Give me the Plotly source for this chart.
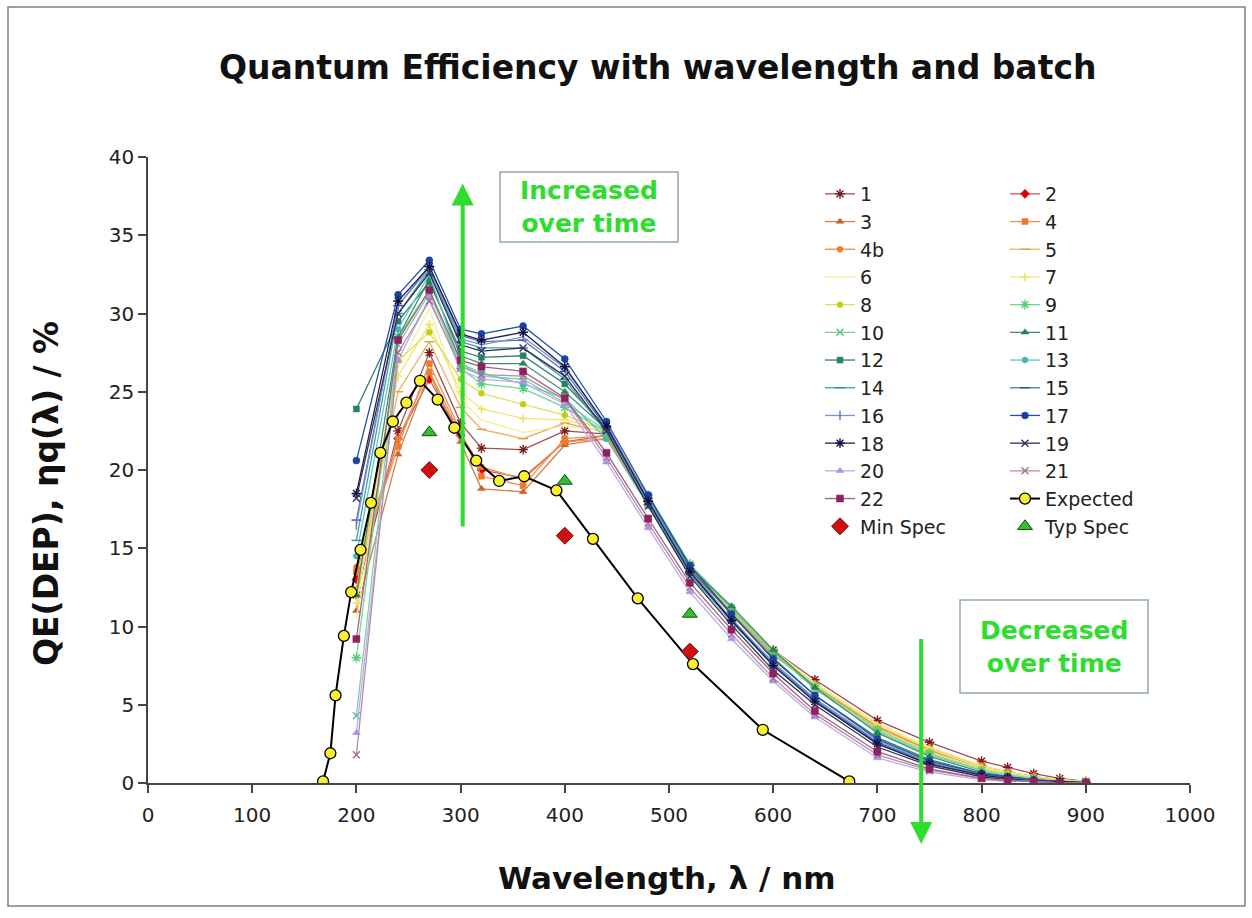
import plotly.graph_objects as go

# ---------------- data ----------------
wavelength_nm = [200, 240, 270, 300, 320, 360, 400, 440, 480, 520,
                 560, 600, 640, 700, 750, 800, 825, 850, 875, 900]

batch_names = ["1", "2", "3", "4", "4b", "5", "6", "7", "8", "9", "10", "11",
               "12", "13", "14", "15", "16", "17", "18", "19", "20", "21", "22"]

qe_1 = [12.0, 22.5, 27.5, 23.0, 21.4, 21.3, 22.5, 22.3, 18.2, 13.9, 11.0, 8.5, 6.6, 4.0, 2.6, 1.4, 1.0, 0.6, 0.3, 0.1]
qe_2 = [13.0, 22.0, 25.8, 22.2, 20.0, 19.5, 21.8, 22.2, 18.0, 13.7, 10.9, 8.3, 6.3, 3.6, 2.2, 1.1, 0.7, 0.4, 0.2, 0.1]
qe_3 = [11.0, 21.0, 26.2, 21.8, 18.8, 18.6, 21.6, 22.0, 17.8, 13.6, 10.8, 8.2, 6.2, 3.5, 2.1, 1.0, 0.7, 0.4, 0.2, 0.1]
qe_4 = [13.5, 21.5, 26.8, 22.5, 19.6, 19.0, 22.0, 22.2, 18.0, 13.8, 10.9, 8.3, 6.3, 3.6, 2.2, 1.1, 0.7, 0.4, 0.2, 0.1]
qe_4b = [13.8, 22.0, 26.3, 22.3, 20.2, 19.4, 21.8, 22.0, 17.9, 13.7, 10.8, 8.2, 6.2, 3.5, 2.1, 1.0, 0.6, 0.4, 0.2, 0.1]
qe_5 = [12.5, 25.0, 28.2, 24.0, 22.6, 22.0, 23.0, 22.4, 18.2, 14.0, 11.1, 8.4, 6.3, 3.7, 2.2, 1.0, 0.7, 0.4, 0.2, 0.1]
qe_6 = [10.5, 26.5, 30.3, 24.5, 23.2, 22.4, 22.8, 22.5, 18.3, 14.0, 11.2, 8.5, 6.4, 3.8, 2.3, 1.1, 0.7, 0.4, 0.2, 0.1]
qe_7 = [11.5, 26.0, 29.3, 25.0, 23.9, 23.3, 23.2, 22.6, 18.3, 14.0, 11.1, 8.4, 6.3, 3.7, 2.2, 1.0, 0.6, 0.4, 0.2, 0.1]
qe_8 = [12.0, 27.0, 28.8, 25.8, 24.9, 24.2, 23.5, 22.5, 18.2, 13.9, 11.0, 8.3, 6.1, 3.5, 2.0, 0.9, 0.6, 0.3, 0.2, 0.1]
qe_9 = [8.0, 28.5, 31.5, 26.5, 25.5, 25.2, 24.0, 22.4, 18.4, 14.0, 11.2, 8.4, 6.2, 3.4, 1.9, 0.8, 0.5, 0.3, 0.1, 0.05]
qe_10 = [4.3, 28.0, 31.3, 26.8, 26.0, 25.8, 24.3, 22.5, 18.3, 13.9, 11.1, 8.3, 6.0, 3.3, 1.8, 0.8, 0.5, 0.3, 0.1, 0.05]
qe_11 = [12.0, 28.5, 32.2, 27.3, 26.8, 26.8, 25.0, 22.6, 18.3, 13.8, 11.3, 8.5, 6.1, 3.2, 1.7, 0.7, 0.4, 0.2, 0.1, 0.05]
qe_12 = [23.9, 29.5, 32.0, 27.6, 27.2, 27.3, 25.5, 22.7, 18.2, 13.7, 10.8, 8.0, 5.6, 2.9, 1.5, 0.6, 0.4, 0.2, 0.1, 0.0]
qe_13 = [14.5, 29.0, 32.5, 26.8, 26.2, 25.5, 24.6, 22.0, 17.7, 13.3, 10.4, 7.6, 5.3, 2.6, 1.3, 0.5, 0.3, 0.2, 0.1, 0.0]
qe_14 = [15.5, 30.0, 32.8, 28.2, 27.8, 27.8, 25.8, 22.4, 17.8, 13.4, 10.3, 7.5, 5.2, 2.5, 1.2, 0.5, 0.3, 0.1, 0.1, 0.0]
qe_15 = [16.8, 30.5, 33.0, 28.6, 28.2, 28.3, 26.3, 22.7, 18.0, 13.5, 10.4, 7.6, 5.3, 2.6, 1.3, 0.5, 0.3, 0.2, 0.1, 0.0]
qe_16 = [16.5, 30.5, 32.9, 28.4, 28.0, 28.5, 26.5, 22.9, 18.2, 13.6, 10.5, 7.7, 5.4, 2.7, 1.3, 0.5, 0.3, 0.2, 0.1, 0.0]
qe_17 = [20.6, 31.2, 33.4, 29.0, 28.7, 29.2, 27.1, 23.1, 18.4, 13.9, 10.8, 7.9, 5.6, 2.8, 1.4, 0.6, 0.4, 0.2, 0.1, 0.0]
qe_18 = [18.5, 30.8, 33.0, 28.7, 28.3, 28.8, 26.6, 22.8, 18.0, 13.5, 10.4, 7.5, 5.2, 2.5, 1.2, 0.5, 0.3, 0.1, 0.1, 0.0]
qe_19 = [18.2, 30.0, 32.6, 28.0, 27.6, 27.8, 26.0, 22.5, 17.7, 13.2, 10.1, 7.2, 5.0, 2.3, 1.1, 0.4, 0.2, 0.1, 0.0, 0.0]
qe_20 = [3.2, 27.0, 31.0, 26.4, 25.8, 25.6, 24.2, 20.5, 16.3, 12.2, 9.2, 6.5, 4.2, 1.6, 0.7, 0.2, 0.1, 0.1, 0.0, 0.0]
qe_21 = [1.8, 27.5, 30.8, 26.6, 26.1, 26.0, 24.5, 20.8, 16.6, 12.5, 9.5, 6.7, 4.4, 1.8, 0.8, 0.3, 0.1, 0.1, 0.0, 0.0]
qe_22 = [9.2, 28.3, 31.5, 27.0, 26.6, 26.3, 24.6, 21.1, 16.9, 12.8, 9.8, 7.0, 4.6, 2.0, 0.9, 0.3, 0.2, 0.1, 0.0, 0.0]

expected_nm = [168, 175, 180, 188, 195, 204, 214, 223, 235, 248, 261,
               278, 294, 315, 337, 361, 392, 427, 470, 523, 590, 673]
expected_qe = [0.1, 1.9, 5.6, 9.4, 12.2, 14.9, 17.9, 21.1, 23.1, 24.3, 25.7,
               24.5, 22.7, 20.6, 19.3, 19.6, 18.7, 15.6, 11.8, 7.6, 3.4, 0.1]

spec_nm = [270, 400, 520]
min_spec_qe = [20.0, 15.8, 8.4]
typ_spec_qe = [22.4, 19.3, 10.8]

x_ticks = [0, 100, 200, 300, 400, 500, 600, 700, 800, 900, 1000]
y_ticks = [0, 5, 10, 15, 20, 25, 30, 35, 40]

batch_values = [qe_1, qe_2, qe_3, qe_4, qe_4b, qe_5, qe_6, qe_7, qe_8, qe_9, qe_10,
                qe_11, qe_12, qe_13, qe_14, qe_15, qe_16, qe_17, qe_18, qe_19,
                qe_20, qe_21, qe_22]

# ---------------- styles ----------------
# (line colour, marker symbol, marker colour, marker size)
batch_styles = [
    ("#A05050", "asterisk-open", "#7A1A1A", 8),
    ("#E05050", "diamond", "#E00000", 7),
    ("#D08050", "triangle-up", "#C86430", 7),
    ("#F09050", "square", "#F07828", 6),
    ("#E89050", "circle", "#E88030", 6),
    ("#F0B060", "line-ew-open", "#E0A040", 7),
    ("#F5EC98", None, None, 0),
    ("#F6E670", "cross-thin-open", "#F0E050", 6),
    ("#E0E060", "circle", "#C0D010", 6),
    ("#70D890", "asterisk-open", "#50D070", 8),
    ("#80D0A0", "x-thin-open", "#60C080", 7),
    ("#409070", "triangle-up", "#2A8050", 7),
    ("#308060", "square", "#2A8060", 6),
    ("#60C8C0", "circle", "#40B8B0", 6),
    ("#40A0A8", "line-ew-open", "#3090A0", 7),
    ("#5070B8", "line-ew-open", "#3050A0", 7),
    ("#8090D0", "line-ns-open", "#6070C0", 7),
    ("#2050B0", "circle", "#1A40A0", 7),
    ("#202050", "asterisk-open", "#101040", 8),
    ("#303050", "x-thin-open", "#303060", 7),
    ("#C0A8F0", "triangle-up", "#B090E8", 7),
    ("#B090A8", "x-thin-open", "#A07090", 7),
    ("#A06080", "square", "#902060", 7),
]

FONT = "DejaVu Sans"
W, H = 1252, 918
L, R, T, B = 148, 62, 157, 135
PW, PH = W - L - R, H - T - B


def px_x(px):
    return (px - L) / PW


def px_y(py):
    return (H - B - py) / PH


fig = go.Figure()

for i, (name, yv, st) in enumerate(zip(batch_names, batch_values, batch_styles)):
    lc, sym, mc, ms = st
    legend_id = "legend" if i % 2 == 0 else "legend2"
    if sym is None:
        fig.add_trace(go.Scatter(x=wavelength_nm, y=yv, name=name, mode="lines",
                                 line=dict(color=lc, width=1.3), legend=legend_id))
        continue
    if sym.endswith("-open"):
        marker = dict(symbol=sym, size=ms, color=mc, line=dict(color=mc, width=1.4))
    else:
        marker = dict(symbol=sym, size=ms, color=mc, line=dict(color=mc, width=0.5))
    fig.add_trace(go.Scatter(x=wavelength_nm, y=yv, name=name, mode="lines+markers",
                             line=dict(color=lc, width=1.3), marker=marker,
                             legend=legend_id))

# Expected (legend2, after 21)
fig.add_trace(go.Scatter(x=expected_nm, y=expected_qe, name="Expected", mode="lines+markers",
                         line=dict(color="#000000", width=2),
                         marker=dict(symbol="circle", size=11, color="#F8F030",
                                     line=dict(color="#000000", width=1.3)),
                         legend="legend2"))
# Min Spec (legend, after 22)
fig.add_trace(go.Scatter(x=spec_nm, y=min_spec_qe, name="Min Spec", mode="markers",
                         marker=dict(symbol="diamond", size=13, color="#D01010",
                                     line=dict(color="#701010", width=1)),
                         legend="legend"))
# Typ Spec (legend2, after Expected)
fig.add_trace(go.Scatter(x=spec_nm, y=typ_spec_qe, name="Typ Spec", mode="markers",
                         marker=dict(symbol="triangle-up", size=13, color="#30C030",
                                     line=dict(color="#105010", width=1)),
                         legend="legend2"))

GREEN = "#2EDD2E"
annotations = [
    dict(text="<b>Quantum Efficiency with wavelength and batch</b>", x=px_x(657), y=px_y(68),
         xref="paper", yref="paper", showarrow=False, xanchor="center", yanchor="middle",
         font=dict(family=FONT, size=33, color="#111111")),
    dict(text="<b>Wavelength, λ / nm</b>", x=px_x(667), y=px_y(878),
         xref="paper", yref="paper", showarrow=False, xanchor="center", yanchor="middle",
         font=dict(family=FONT, size=31, color="#111111")),
    dict(text="<b>QE(DEP), ηq(λ) / %</b>", x=px_x(46), y=px_y(494), textangle=-90,
         xref="paper", yref="paper", showarrow=False, xanchor="center", yanchor="middle",
         font=dict(family=FONT, size=33, color="#111111")),
    dict(text="<b>Increased<br>over time</b>", x=px_x(589), y=px_y(207),
         xref="paper", yref="paper", showarrow=False, xanchor="center", yanchor="middle",
         font=dict(family=FONT, size=25, color=GREEN)),
    dict(text="<b>Decreased<br>over time</b>", x=px_x(1054), y=px_y(647),
         xref="paper", yref="paper", showarrow=False, xanchor="center", yanchor="middle",
         font=dict(family=FONT, size=25, color=GREEN)),
    # arrows
    dict(x=302, y=38.3, ax=302, ay=16.3, xref="x", yref="y", axref="x", ayref="y",
         showarrow=True, arrowhead=2, arrowsize=1.1, arrowwidth=4, arrowcolor=GREEN, text=""),
    dict(x=742, y=-3.9, ax=742, ay=9.3, xref="x", yref="y", axref="x", ayref="y",
         showarrow=True, arrowhead=2, arrowsize=1.1, arrowwidth=4, arrowcolor=GREEN, text=""),
]

shapes = [
    dict(type="rect", xref="paper", yref="paper", x0=px_x(500), x1=px_x(678),
         y0=px_y(242), y1=px_y(172), line=dict(color="#90B090", width=1.5)),
    dict(type="rect", xref="paper", yref="paper", x0=px_x(960), x1=px_x(1148),
         y0=px_y(693), y1=px_y(600), line=dict(color="#90B090", width=1.5)),
    dict(type="rect", xref="paper", yref="paper", x0=px_x(8), x1=px_x(1245),
         y0=px_y(906), y1=px_y(7), line=dict(color="#808080", width=1.5)),
]

axis_font = dict(family=FONT, size=20, color="#222222")
legend_font = dict(family=FONT, size=19, color="#222222")

fig.update_layout(
    width=W, height=H,
    margin=dict(l=L, r=R, t=T, b=B, autoexpand=False),
    paper_bgcolor="white", plot_bgcolor="white",
    showlegend=True,
    xaxis=dict(range=[0, 1000], tickvals=x_ticks, ticks="outside", ticklen=8, tickwidth=1.5,
               tickcolor="#444444", showline=True, linecolor="#444444", linewidth=1.5,
               showgrid=False, zeroline=False, tickfont=axis_font, ticklabelstandoff=5),
    yaxis=dict(range=[0, 40], tickvals=y_ticks, ticks="outside", ticklen=8, tickwidth=1.5,
               tickcolor="#444444", showline=True, linecolor="#444444", linewidth=1.5,
               showgrid=False, zeroline=False, tickfont=axis_font),
    legend=dict(x=px_x(820), y=px_y(175), xanchor="left", yanchor="top",
                bgcolor="rgba(0,0,0,0)", font=legend_font, tracegroupgap=0),
    legend2=dict(x=px_x(1005), y=px_y(175), xanchor="left", yanchor="top",
                 bgcolor="rgba(0,0,0,0)", font=legend_font, tracegroupgap=0),
    annotations=annotations,
    shapes=shapes,
)

fig.write_html("out.html")
